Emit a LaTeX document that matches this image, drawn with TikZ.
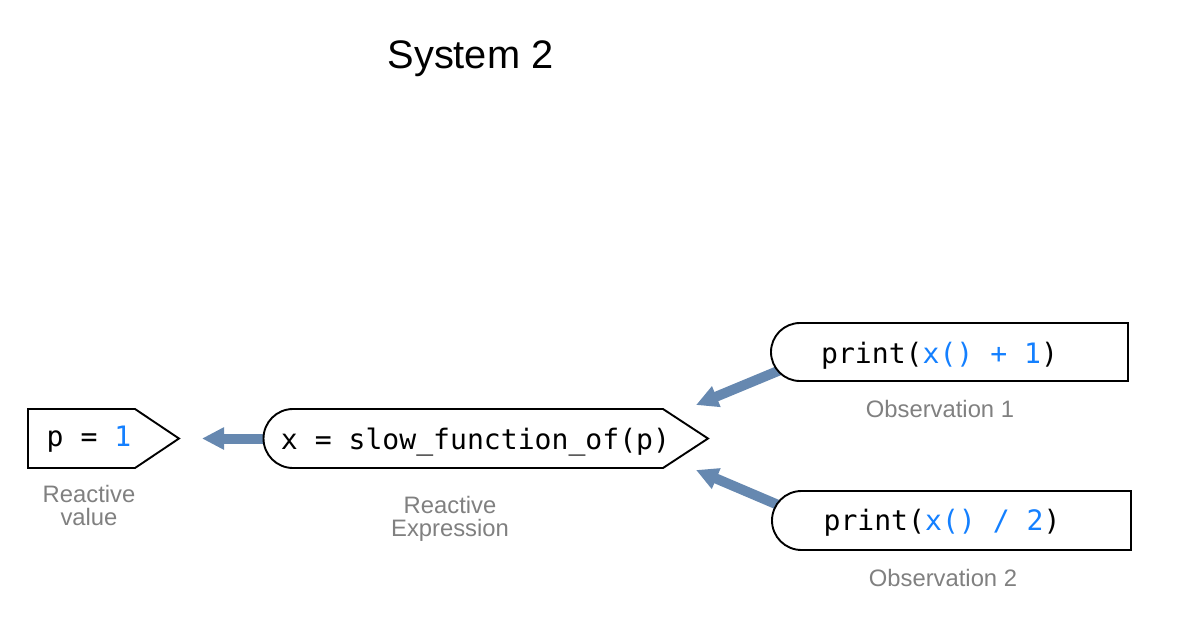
\documentclass[tikz,border=0pt]{standalone}
\usepackage{fontspec}
\setmainfont{Liberation Sans}
\setmonofont{DejaVu Sans Mono}
\usetikzlibrary{arrows.meta}
\definecolor{codeblue}{RGB}{20,128,255}
\definecolor{flowblue}{RGB}{102,136,176}
\definecolor{labelgray}{RGB}{128,128,128}
\tikzset{
  code/.style={inner sep=0pt, font=\ttfamily\fontsize{28.1}{32}\selectfont, anchor=base},
  lbl/.style={inner sep=0pt, text=labelgray, font=\fontsize{23.8}{23}\selectfont, align=center},
  shapebox/.style={draw=black, line width=1.9pt, fill=white, line join=miter},
  flow/.style={draw=flowblue, line width=10pt, -{Triangle[length=22pt,width=21pt]}}
}
\begin{document}
\begin{tikzpicture}[x=1pt,y=-1pt]
\useasboundingbox (0,0) rectangle (1181,633);
% title
\node[inner sep=0pt, anchor=base, font=\fontsize{39.8}{45}\selectfont] (title) at (470.5,68) {System 2};
% connector end points
\coordinate (xs) at (275,438.5);
\coordinate (pe) at (202,438.5);
\coordinate (o1s) at (790,366);
\coordinate (x1) at (696,405);
\coordinate (o2s) at (790,510);
\coordinate (x2) at (696,470);
% connectors (drawn first, boxes cover their tails)
\draw[flow] (xs) -- (pe);
\draw[flow] (o1s) -- (x1);
\draw[flow] (o2s) -- (x2);
% shapes
\draw[shapebox] (28,409) -- (135,409) -- (179,438.5) -- (135,468) -- (28,468) -- cycle;
\draw[shapebox] (293,409) -- (663,409) -- (708,438.5) -- (663,468) -- (293,468) arc(90:270:29.5) -- cycle;
\draw[shapebox] (800,323) -- (1128,323) -- (1128,381) -- (800,381) arc(90:270:29) -- cycle;
\draw[shapebox] (801.5,491) -- (1131,491) -- (1131,550) -- (801.5,550) arc(90:270:29.5) -- cycle;
% texts
\node[code] (p) at (89,446) {p = \textcolor{codeblue}{1}};
\node[code] (x) at (475.5,449) {x = slow\_function\_of(p)};
\node[code] (o1) at (939.5,363) {print(\textcolor{codeblue}{x() + 1})};
\node[code] (o2) at (942,530) {print(\textcolor{codeblue}{x() / 2})};
% labels
\node[lbl] (lp) at (89,505) {Reactive\\value};
\node[lbl] (lx) at (450,518.5) {Reactive\\Expression};
\node[lbl, anchor=base] (lo1) at (940,417) {Observation 1};
\node[lbl, anchor=base] (lo2) at (943,586) {Observation 2};
\end{tikzpicture}
\end{document}
